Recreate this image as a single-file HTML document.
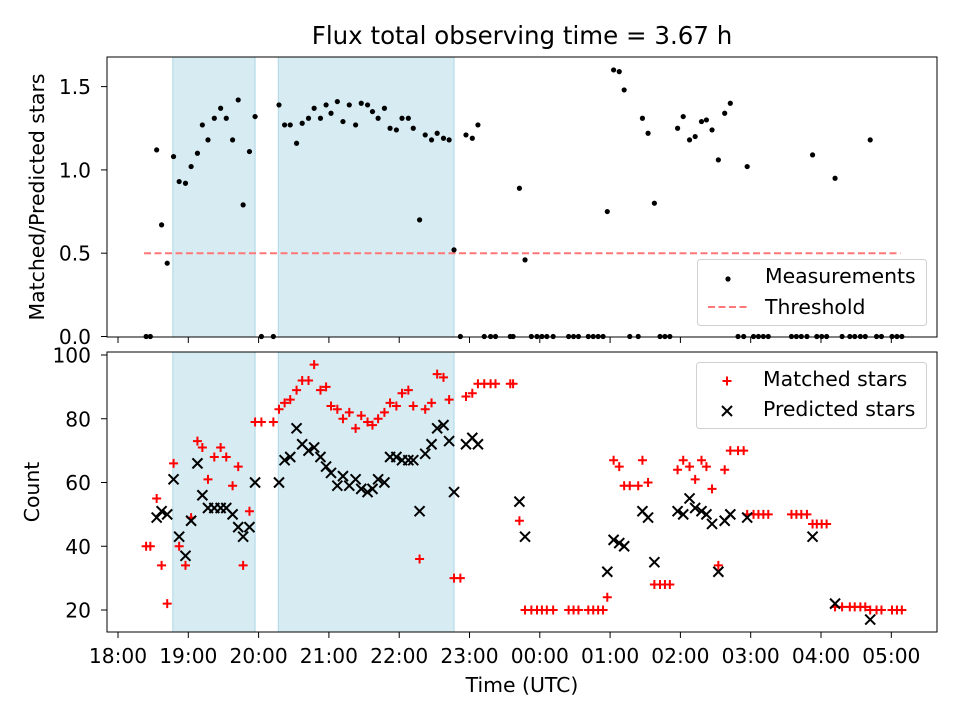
<!DOCTYPE html>
<html><head><meta charset="utf-8"><style>
body{margin:0;background:#fff;}
svg{display:block;font-family:"DejaVu Sans","Liberation Sans",sans-serif;}
</style></head><body>
<svg id="chart" width="960" height="720" viewBox="0 0 960 720"></svg>
<script>
const hours=[18.40,18.46,18.55,18.62,18.70,18.79,18.87,18.96,19.04,19.13,19.20,19.28,19.37,19.46,19.54,19.63,19.71,19.78,19.87,19.95,20.04,20.21,20.29,20.37,20.45,20.54,20.62,20.71,20.79,20.88,20.96,21.03,21.12,21.20,21.29,21.38,21.46,21.55,21.62,21.70,21.79,21.87,21.96,22.04,22.13,22.20,22.29,22.37,22.46,22.54,22.63,22.71,22.78,22.87,22.95,23.04,23.12,23.21,23.30,23.37,23.58,23.62,23.71,23.79,23.88,23.96,24.03,24.10,24.19,24.41,24.48,24.55,24.69,24.76,24.83,24.90,24.96,25.05,25.13,25.20,25.28,25.40,25.46,25.54,25.63,25.71,25.78,25.85,25.96,26.04,26.13,26.21,26.30,26.37,26.45,26.54,26.63,26.71,26.82,26.90,26.95,27.04,27.11,27.18,27.25,27.58,27.65,27.72,27.80,27.88,27.94,28.01,28.08,28.20,28.30,28.41,28.48,28.56,28.63,28.70,28.79,28.86,29.01,29.08,29.15];
const ratio=[0,0,1.12,0.67,0.44,1.08,0.93,0.92,1.02,1.10,1.27,1.18,1.31,1.37,1.31,1.18,1.42,0.79,1.11,1.32,0,0,1.39,1.27,1.27,1.16,1.28,1.31,1.37,1.31,1.39,1.34,1.41,1.29,1.39,1.27,1.40,1.39,1.35,1.31,1.37,1.25,1.24,1.31,1.31,1.25,0.70,1.21,1.18,1.22,1.19,1.18,0.52,0,1.21,1.19,1.27,0,0,0,0,0,0.89,0.46,0,0,0,0,0,0,0,0,0,0,0,0,0.75,1.60,1.59,1.48,0,0,1.31,1.22,0.80,0,0,0,1.25,1.32,1.18,1.20,1.29,1.30,1.24,1.06,1.34,1.40,0,0,1.02,0,0,0,0,0,0,0,0,1.09,0,0,0,0.95,0,0,0,0,0,1.18,0,0,0,0,0];
const matched=[40,40,55,34,22,66,40,34,49,73,71,61,68,71,68,59,65,34,51,79,79,79,83,85,86,89,92,92,97,89,90,84,83,80,82,77,81,79,78,80,82,85,84,88,89,84,36,83,85,94,93,86,30,30,87,88,91,91,91,91,91,91,48,20,20,20,20,20,20,20,20,20,20,20,20,20,24,67,65,59,59,59,67,60,28,28,28,28,64,67,65,61,67,65,58,34,64,70,70,70,50,50,50,50,50,50,50,50,50,47,47,47,47,21,21,21,21,21,21,20,20,20,20,20,20];
const predicted=[null,null,49,51,50,61,43,37,48,66,56,52,52,52,52,50,46,43,46,60,null,null,60,67,68,77,72,70,71,68,65,63,59,62,59,61,58,57,58,61,60,68,68,67,67,67,51,69,72,77,78,73,57,null,72,74,72,null,null,null,null,null,54,43,null,null,null,null,null,null,null,null,null,null,null,null,32,42,41,40,null,null,51,49,35,null,null,null,51,50,55,52,51,50,47,32,48,50,null,null,49,null,null,null,null,null,null,null,null,43,null,null,null,22,null,null,null,null,null,17,null,null,null,null,null];
const spans=[[18.78,19.95],[20.28,22.78]];
const threshold=0.5, thrStart=18.37, thrEnd=29.13;
const topTicks=[0,0.5,1.0,1.5], topTickLabels=["0.0","0.5","1.0","1.5"];
const botTicks=[20,40,60,80,100];
const xTicks=[18,19,20,21,22,23,24,25,26,27,28,29];
const xTickLabels=["18:00","19:00","20:00","21:00","22:00","23:00","00:00","01:00","02:00","03:00","04:00","05:00"];

const NS="http://www.w3.org/2000/svg", svg=document.getElementById('chart');
function mk(tag,attrs,parent){const e=document.createElementNS(NS,tag);for(const k in attrs)e.setAttribute(k,attrs[k]);(parent||svg).appendChild(e);return e;}
const L=107,R=937,T1=57,B1=337,T2=352,B2=632;
const TF=20.2, LF=20.4, TL=6;
const X=h=>118+(h-18)*70.3;
const Y1=v=>336.5-v*166.6;
const Y2=v=>610-(v-20)*3.1875;

let g=mk('g',{});

spans.forEach(s=>{const r=mk('rect',{x:X(s[0]),y:T1,width:X(s[1])-X(s[0]),height:B1-T1,fill:'#add8e6','fill-opacity':0.5,stroke:'#add8e6','stroke-width':1},g);
});
let thr=mk('line',{x1:X(thrStart),x2:X(thrEnd),y1:Y1(threshold),y2:Y1(threshold),stroke:'#ff7777','stroke-width':2,'stroke-dasharray':'7,3.5'},g);

hours.forEach((h,i)=>{const c=mk('circle',{cx:X(h),cy:Y1(ratio[i]),r:2.6,fill:'#000'},g);
});
mk('rect',{x:L,y:T1,width:R-L,height:B1-T1,fill:'none',stroke:'#000','stroke-width':1},g);
topTicks.forEach((t,i)=>{mk('line',{x1:L-TL,x2:L,y1:Y1(t),y2:Y1(t),stroke:'#000'},g);
const tx=mk('text',{x:L-16,y:Y1(t)+7.5,'text-anchor':'end','font-size':TF},g);tx.textContent=topTickLabels[i];
});
xTicks.forEach(t=>mk('line',{x1:X(t),x2:X(t),y1:B1,y2:B1+TL,stroke:'#000'},g));
let yl=mk('text',{x:0,y:0,transform:'translate(44,197) rotate(-90)','text-anchor':'middle','font-size':LF},g);yl.textContent='Matched/Predicted stars';

let lg=mk('g',{},g);
mk('rect',{x:697.5,y:259.5,width:229,height:66,rx:3,fill:'#fff','fill-opacity':0.8,stroke:'#d0d0d0'},lg);
mk('circle',{cx:728,cy:279,r:2.6,fill:'#000'},lg);
let t1=mk('text',{x:765,y:283,'font-size':LF},lg);t1.textContent='Measurements';
mk('line',{x1:708,x2:748,y1:307,y2:307,stroke:'#ff7777','stroke-width':2,'stroke-dasharray':'7,3.5'},lg);
let t2=mk('text',{x:765,y:314,'font-size':LF},lg);t2.textContent='Threshold';

let g2=mk('g',{});

spans.forEach(s=>{const r=mk('rect',{x:X(s[0]),y:T2,width:X(s[1])-X(s[0]),height:B2-T2,fill:'#add8e6','fill-opacity':0.5,stroke:'#add8e6','stroke-width':1},g2);
});
function plus(x,y,p,c){mk('path',{d:`M${x-4.5},${y}H${x+4.5}M${x},${y-4.5}V${y+4.5}`,stroke:c,'stroke-width':2,fill:'none'},p);}
function cross(x,y,p){mk('path',{d:`M${x-5},${y-5}L${x+5},${y+5}M${x-5},${y+5}L${x+5},${y-5}`,stroke:'#000','stroke-width':2,fill:'none'},p);}
hours.forEach((h,i)=>{const pg=mk('g',{},g2);plus(X(h),Y2(matched[i]),pg,'#ff0000');});
hours.forEach((h,i)=>{if(predicted[i]==null)return;const pg=mk('g',{},g2);cross(X(h),Y2(predicted[i]),pg);});
mk('rect',{x:L,y:T2,width:R-L,height:B2-T2,fill:'none',stroke:'#000','stroke-width':1},g2);
botTicks.forEach(t=>{mk('line',{x1:L-TL,x2:L,y1:Y2(t),y2:Y2(t),stroke:'#000'},g2);
const tx=mk('text',{x:L-16,y:Y2(t)+7.5,'text-anchor':'end','font-size':TF},g2);tx.textContent=t;
});
xTicks.forEach((t,i)=>{mk('line',{x1:X(t),x2:X(t),y1:B2,y2:B2+TL,stroke:'#000'},g2);
const tx=mk('text',{x:X(t),y:B2+31,'text-anchor':'middle','font-size':TF},g2);tx.textContent=xTickLabels[i];
});
let yl2=mk('text',{x:0,y:0,transform:'translate(39,492) rotate(-90)','text-anchor':'middle','font-size':LF},g2);yl2.textContent='Count';

let xl=mk('text',{x:522,y:692,'text-anchor':'middle','font-size':LF},g2);xl.textContent='Time (UTC)';

let lg2=mk('g',{},g2);
mk('rect',{x:696.5,y:362.5,width:230,height:66,rx:3,fill:'#fff','fill-opacity':0.8,stroke:'#d0d0d0'},lg2);
plus(727,381,lg2,'#ff0000');
let t3=mk('text',{x:763,y:386,'font-size':LF},lg2);t3.textContent='Matched stars';
cross(727,411,lg2);
let t4=mk('text',{x:763,y:416,'font-size':LF},lg2);t4.textContent='Predicted stars';

let title=mk('text',{x:522,y:44,'text-anchor':'middle','font-size':24.5});title.textContent='Flux total observing time = 3.67 h';

</script>
</body></html>
